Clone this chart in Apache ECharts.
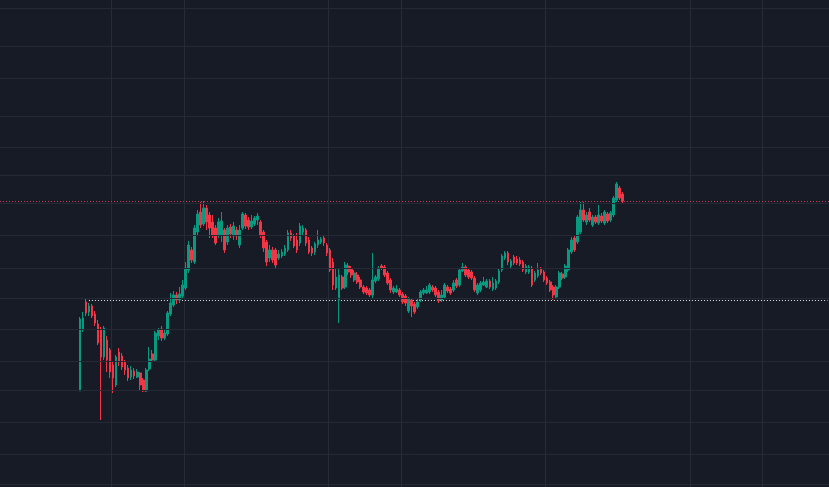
<!DOCTYPE html>
<html>
<head>
<meta charset="utf-8">
<script src="https://cdn.jsdelivr.net/npm/echarts@6/dist/echarts.min.js"></script>
<style>
html,body{margin:0;padding:0;background:#171b26;}
#chart{width:829px;height:487px;}
</style>
</head>
<body>
<div id="chart"></div>
<script>
// Hourly slots shown on the time axis (first slot = 03-01 11:00)
const slotCount = 275;
const firstSlotHour = 11;
const dataStartSlot = 26;

// Candles: [open, close, low, high]
const ohlc = [
[109,181,109,183],[170,182,168,188],[198,187,184,201],[188,194,184,197],[194,184,182,196],
[186,177,174,189],[176,157,155,180],[170,143,80,173],[143,172,140,174],[160,140,128,164],
[150,128,122,152],[135,122,107,138],[115,143,113,145],[148,138,134,152],[144,133,130,147],
[138,130,125,140],[132,122,119,135],[123,130,120,134],[129,124,121,132],[123,128,122,131],
[127,115,110,128],[120,109,108,122],[109,130,108,132],[131,141,129,153],[146,140,138,150],
[140,167,138,169],[164,170,160,172],[171,162,159,174],[162,167,160,170],[166,187,164,189],
[186,197,184,207],[195,205,193,209],[205,200,196,208],[200,206,197,213],[204,215,202,220],
[212,232,210,238],[230,255,227,259],[250,240,237,253],[238,272,236,275],[268,286,265,290],
[288,275,272,298],[276,292,274,299],[292,278,270,295],[285,272,262,288],[278,265,262,285],
[272,257,255,275],[265,278,262,282],[265,279,258,288],[270,250,247,272],[258,272,255,275],
[273,266,262,276],[264,274,260,278],[270,264,260,273],[255,270,252,275],[272,286,270,288],
[285,274,271,287],[280,273,270,283],[273,279,271,285],[276,282,274,284],[280,284,275,287],
[278,265,262,280],[268,252,248,270],[258,238,234,260],[242,250,238,255],[250,240,237,253],
[250,235,232,252],[242,246,240,250],[244,248,242,251],[246,252,244,255],[250,267,248,270],
[267,262,259,270],[264,254,252,266],[260,250,247,267],[257,274,254,277],[268,272,264,275],
[270,257,254,272],[260,248,246,263],[252,247,244,254],[248,256,245,258],[255,260,252,270],
[258,261,256,263],[262,257,254,264],[255,247,244,257],[250,230,228,252],[238,215,210,242],
[212,223,210,232],[200,225,177,232],[223,212,210,225],[213,235,211,238],[234,228,225,237],
[231,225,222,234],[220,227,218,230],[225,218,216,228],[220,213,211,223],[213,208,206,215],
[212,207,205,214],[210,205,203,212],[205,220,202,247],[219,223,217,225],[221,232,219,234],
[234,232,230,236],[233,225,223,235],[227,217,215,229],[220,210,207,222],[208,212,206,214],
[208,211,207,215],[210,205,203,212],[206,198,196,208],[204,197,194,206],[189,201,187,203],
[200,194,183,202],[196,188,186,198],[193,198,191,202],[200,208,198,210],[207,210,205,212],
[207,210,206,214],[208,215,206,217],[213,210,208,215],[212,205,203,214],[208,199,197,210],
[200,205,198,210],[203,215,201,217],[213,209,207,215],[211,207,205,213],[210,217,208,220],
[220,214,212,222],[215,230,213,232],[229,233,228,237],[233,225,223,235],[230,223,221,232],
[228,222,220,230],[222,210,208,224],[207,215,205,217],[210,217,208,219],[215,218,214,223],
[213,219,212,221],[219,213,211,221],[211,217,209,223],[212,219,210,221],[218,229,216,231],
[230,244,228,246],[242,247,240,249],[247,238,235,249],[234,239,232,241],[243,237,235,245],
[241,237,235,244],[240,236,234,243],[238,230,228,240],[228,234,226,236],[228,233,226,235],
[232,215,213,234],[220,227,218,229],[224,230,222,237],[231,227,225,233],[228,220,218,230],
[222,217,215,224],[218,210,208,220],[213,205,200,215],[203,213,201,215],[213,227,211,229],
[226,222,220,228],[223,234,221,236],[230,250,228,252],[248,260,246,263],[262,250,248,265],
[258,283,256,285],[268,290,266,298],[290,280,278,298],[278,285,275,288],[288,280,278,292],
[275,283,273,285],[283,278,276,285],[277,285,275,295],[284,279,277,287],[277,288,275,290],
[286,279,277,288],[280,287,278,289],[285,302,283,304],[300,316,298,318],[312,302,300,314],
[306,299,297,308]
];

// Price levels of the horizontal grid lines
const priceGridLevels = [492,454,422,384,353,325,297,265,232,202,171,139,110,78,46,16];
// Day boundaries that carry a vertical grid line
const timeGridLabels = ['03-03 00:00','03-04 00:00','03-06 00:00','03-07 00:00','03-09 00:00','03-11 00:00','03-12 00:00'];
const lastPrice = 299;
const refPrice = 200;
const refLineStartLabel = '03-02 16:00';

function pad(n){return (n<10?'0':'')+n;}
const times = [];
for (let i = 0; i < slotCount; i++) {
  const h = firstSlotHour + i;
  const day = 1 + Math.floor(h / 24);
  times.push('03-' + pad(day) + ' ' + pad(h % 24) + ':00');
}
const candleData = ohlc.map((d, i) => [times[dataStartSlot + i], d[0], d[1], d[2], d[3]]);

const chart = echarts.init(document.getElementById('chart'), null, {renderer: 'canvas'});
chart.setOption({
  backgroundColor: '#171b26',
  animation: false,
  grid: {left: 0, right: 0, top: 0, bottom: 0},
  xAxis: {
    type: 'category',
    data: times,
    boundaryGap: true,
    axisLine: {show: false},
    axisTick: {show: false},
    axisLabel: {show: false},
    splitLine: {
      show: true,
      interval: function (idx, val) { return timeGridLabels.indexOf(val) >= 0; },
      lineStyle: {color: '#272b36', width: 1}
    }
  },
  yAxis: {
    type: 'value',
    min: 13,
    max: 500,
    axisLine: {show: false},
    axisTick: {show: false},
    axisLabel: {show: false},
    splitLine: {show: false}
  },
  series: [
    {
      type: 'line',
      data: [],
      z: 1,
      silent: true,
      markLine: {
        silent: true,
        symbol: 'none',
        label: {show: false},
        animation: false,
        data: priceGridLevels.map(v => ({yAxis: v, lineStyle: {color: '#252935', width: 1, type: 'solid'}}))
      }
    },
    {
      type: 'candlestick',
      data: candleData,
      encode: {x: 0, y: [1, 2, 3, 4]},
      barWidth: 2.2,
      z: 3,
      itemStyle: {
        color: '#089981',
        color0: '#f23645',
        borderColor: '#089981',
        borderColor0: '#f23645',
        borderWidth: 1
      },
      markLine: {
        silent: true,
        symbol: 'none',
        label: {show: false},
        animation: false,
        z: 2,
        data: [
          {yAxis: lastPrice, lineStyle: {color: '#d23a52', width: 1, type: [1, 2]}},
          [
            {coord: [refLineStartLabel, refPrice], lineStyle: {color: '#e6e6e6', width: 1, type: [1, 2]}},
            {coord: [times[slotCount - 1], refPrice]}
          ]
        ]
      }
    }
  ]
});
</script>
</body>
</html>
